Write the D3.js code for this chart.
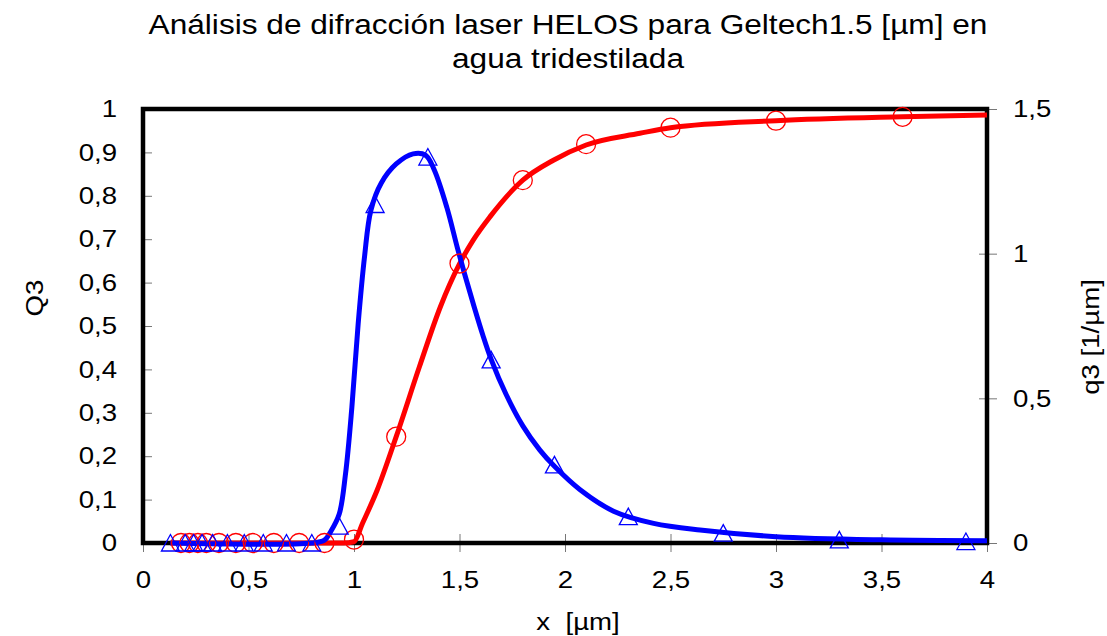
<!DOCTYPE html>
<html><head><meta charset="utf-8">
<script src="https://cdn.jsdelivr.net/npm/d3@7"></script>
<style>body{margin:0;background:#fff}svg{display:block}text{font-family:"Liberation Sans",Arial,sans-serif;fill:#000}</style>
</head><body>
<svg id="c" width="1107" height="636"></svg>
<script>
const titleLines = ["Análisis de difracción laser HELOS para Geltech1.5 [µm] en", "agua tridestilada"];
const xLabel = "x  [µm]", yLabelLeft = "Q3", yLabelRight = "q3 [1/µm]";
const xTicks = [0, 0.5, 1, 1.5, 2, 2.5, 3, 3.5, 4];
const yTicksLeft = [0, 0.1, 0.2, 0.3, 0.4, 0.5, 0.6, 0.7, 0.8, 0.9, 1];
const yTicksRight = [0, 0.5, 1, 1.5];

// measured markers
const circleX  = [0.18,0.22,0.26,0.30,0.36,0.44,0.52,0.62,0.74,0.86,1.00,1.20,1.50,1.80,2.10,2.50,3.00,3.60];
const circleQ3 = [0,0,0,0,0,0,0,0,0,0,0.008,0.245,0.644,0.836,0.919,0.957,0.973,0.982];
const triX  = [0.13,0.20,0.24,0.28,0.33,0.40,0.48,0.57,0.68,0.80,0.93,1.10,1.35,1.65,1.95,2.30,2.75,3.30,3.90];
const triq3 = [0,0,0,0,0,0,0,0,0,0,0.058,1.17,1.334,0.633,0.27,0.091,0.034,0.011,0.005];

// fitted curves
const redX  = [0.13,0.86,0.95,1.00,1.04,1.11,1.20,1.31,1.41,1.50,1.565,1.645,1.80,1.945,2.10,2.355,2.50,3.00,3.60,4.00];
const redQ3 = [0,0,0,0.003,0.045,0.122,0.245,0.406,0.545,0.643,0.698,0.752,0.836,0.882,0.917,0.944,0.957,0.973,0.982,0.986];
const blueX  = [0.13,0.80,0.86,0.89,0.93,0.96,0.99,1.02,1.05,1.08,1.13,1.20,1.28,1.34,1.38,1.44,1.49,1.53,1.57,1.61,1.65,1.72,1.80,1.88,1.95,2.07,2.23,2.42,2.64,3.00,3.50,4.00];
const blueq3 = [0,0,0.01,0.04,0.10,0.24,0.47,0.76,0.99,1.15,1.245,1.31,1.345,1.34,1.29,1.16,1.02,0.915,0.815,0.72,0.635,0.515,0.405,0.322,0.265,0.185,0.11,0.068,0.045,0.022,0.011,0.008];

const L = 143, R = 987, T = 109, B = 543;
const SX = 1.15;
const svg = d3.select("#c");
const x = d3.scaleLinear().domain([0, 4]).range([L, R]);
const yL = d3.scaleLinear().domain([0, 1]).range([B, T]);
const yR = d3.scaleLinear().domain([0, 1.5]).range([B, T]);
const fmt = d => String(d).replace(".", ",");

// title (horizontally stretched like the source)
const tg = svg.append("g").attr("transform", `translate(568,0) scale(${SX},1)`);
tg.selectAll("text").data(titleLines).join("text")
  .attr("x", 0).attr("y", (d, i) => 34 + i * 34).attr("text-anchor", "middle")
  .style("font-size", "27.5px").text(d => d);

// axes
const gx = svg.append("g").attr("transform", `translate(0,${B})`)
  .call(d3.axisBottom(x).tickValues(xTicks).tickFormat(fmt).tickSizeInner(9).tickSizeOuter(0).tickPadding(19));
const gl = svg.append("g").attr("transform", `translate(${L},0)`)
  .call(d3.axisLeft(yL).tickValues(yTicksLeft).tickFormat(fmt).tickSizeInner(10).tickSizeOuter(0).tickPadding(16));
const gr = svg.append("g").attr("transform", `translate(${R},0)`)
  .call(d3.axisRight(yR).tickValues(yTicksRight).tickFormat(fmt).tickSizeInner(10).tickSizeOuter(0).tickPadding(16));
[gx, gl, gr].forEach(g => {
  g.select(".domain").remove();
  g.selectAll("text").style("font-size", "24px").attr("fill", "#000")
    .each(function () {
      const t = d3.select(this);
      const xv = +t.attr("x") || 0;
      t.attr("x", xv / SX).attr("transform", `scale(${SX},1)`);
    });
  g.selectAll(".tick line").attr("stroke", "#777").attr("stroke-width", 1);
});
gx.selectAll(".tick line").attr("y1", -9);
gl.selectAll(".tick line").attr("x2", 9);
gr.selectAll(".tick line").attr("x1", -8);

// frame
svg.append("rect").attr("x", L).attr("y", T).attr("width", R - L).attr("height", B - T)
  .attr("fill", "none").attr("stroke", "#000").attr("stroke-width", 4.5);

// curves
const redPts = redX.map((v, i) => [v, redQ3[i]]);
const bluePts = blueX.map((v, i) => [v, blueq3[i]]);
svg.append("path").datum(redPts).attr("fill", "none").attr("stroke", "#ff0000").attr("stroke-width", 5)
  .attr("d", d3.line().x(d => x(d[0])).y(d => yL(d[1])).curve(d3.curveMonotoneX));
svg.append("path").datum(bluePts).attr("fill", "none").attr("stroke", "#0000ff").attr("stroke-width", 5)
  .attr("d", d3.line().x(d => x(d[0])).y(d => yR(d[1])).curve(d3.curveCatmullRom.alpha(0.5)));

// markers
svg.append("g").selectAll("circle").data(circleX.map((v, i) => [v, circleQ3[i]])).join("circle")
  .attr("cx", d => x(d[0])).attr("cy", d => yL(d[1])).attr("r", 9.5)
  .attr("fill", "none").attr("stroke", "#ff0000").attr("stroke-width", 1.3);
svg.append("g").selectAll("path").data(triX.map((v, i) => [v, triq3[i]])).join("path")
  .attr("transform", d => `translate(${x(d[0])},${yR(d[1])})`)
  .attr("d", "M0,-8.5L9,8L-9,8Z")
  .attr("fill", "none").attr("stroke", "#0000ff").attr("stroke-width", 1.3);

// axis titles
svg.append("g").attr("transform", `translate(578,630) scale(${SX},1)`)
  .append("text").attr("text-anchor", "middle").style("font-size", "24px").style("white-space", "pre").text(xLabel);
svg.append("g").attr("transform", `translate(43,298) rotate(-90) scale(${SX},1)`)
  .append("text").attr("text-anchor", "middle").style("font-size", "24px").text(yLabelLeft);
svg.append("g").attr("transform", `translate(1099,337) rotate(-90) scale(${SX},1)`)
  .append("text").attr("text-anchor", "middle").style("font-size", "24px").text(yLabelRight);
</script>
</body></html>
